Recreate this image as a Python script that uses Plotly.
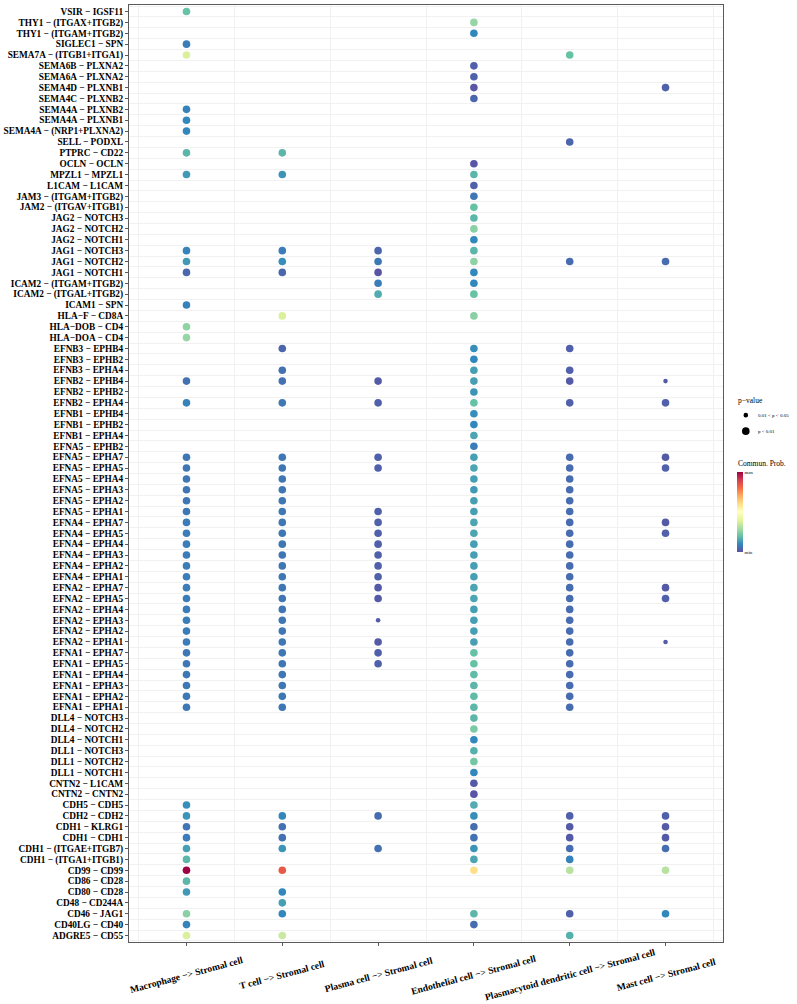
import plotly.graph_objects as go

# ---------------- data ----------------
pairs = [
    "VSIR − IGSF11", "THY1 − (ITGAX+ITGB2)", "THY1 − (ITGAM+ITGB2)", "SIGLEC1 − SPN",
    "SEMA7A − (ITGB1+ITGA1)", "SEMA6B − PLXNA2", "SEMA6A − PLXNA2", "SEMA4D − PLXNB1",
    "SEMA4C − PLXNB2", "SEMA4A − PLXNB2", "SEMA4A − PLXNB1", "SEMA4A − (NRP1+PLXNA2)",
    "SELL − PODXL", "PTPRC − CD22", "OCLN − OCLN", "MPZL1 − MPZL1", "L1CAM − L1CAM",
    "JAM3 − (ITGAM+ITGB2)", "JAM2 − (ITGAV+ITGB1)", "JAG2 − NOTCH3", "JAG2 − NOTCH2",
    "JAG2 − NOTCH1", "JAG1 − NOTCH3", "JAG1 − NOTCH2", "JAG1 − NOTCH1",
    "ICAM2 − (ITGAM+ITGB2)", "ICAM2 − (ITGAL+ITGB2)", "ICAM1 − SPN", "HLA−F − CD8A",
    "HLA−DOB − CD4", "HLA−DOA − CD4", "EFNB3 − EPHB4", "EFNB3 − EPHB2", "EFNB3 − EPHA4",
    "EFNB2 − EPHB4", "EFNB2 − EPHB2", "EFNB2 − EPHA4", "EFNB1 − EPHB4", "EFNB1 − EPHB2",
    "EFNB1 − EPHA4", "EFNA5 − EPHB2", "EFNA5 − EPHA7", "EFNA5 − EPHA5", "EFNA5 − EPHA4",
    "EFNA5 − EPHA3", "EFNA5 − EPHA2", "EFNA5 − EPHA1", "EFNA4 − EPHA7", "EFNA4 − EPHA5",
    "EFNA4 − EPHA4", "EFNA4 − EPHA3", "EFNA4 − EPHA2", "EFNA4 − EPHA1", "EFNA2 − EPHA7",
    "EFNA2 − EPHA5", "EFNA2 − EPHA4", "EFNA2 − EPHA3", "EFNA2 − EPHA2", "EFNA2 − EPHA1",
    "EFNA1 − EPHA7", "EFNA1 − EPHA5", "EFNA1 − EPHA4", "EFNA1 − EPHA3", "EFNA1 − EPHA2",
    "EFNA1 − EPHA1", "DLL4 − NOTCH3", "DLL4 − NOTCH2", "DLL4 − NOTCH1", "DLL1 − NOTCH3",
    "DLL1 − NOTCH2", "DLL1 − NOTCH1", "CNTN2 − L1CAM", "CNTN2 − CNTN2", "CDH5 − CDH5",
    "CDH2 − CDH2", "CDH1 − KLRG1", "CDH1 − CDH1", "CDH1 − (ITGAE+ITGB7)",
    "CDH1 − (ITGA1+ITGB1)", "CD99 − CD99", "CD86 − CD28", "CD80 − CD28", "CD48 − CD244A",
    "CD46 − JAG1", "CD40LG − CD40", "ADGRE5 − CD55",
]

sources = [
    "Macrophage −> Stromal cell",
    "T cell −> Stromal cell",
    "Plasma cell −> Stromal cell",
    "Endothelial cell −> Stromal cell",
    "Plasmacytoid dendritic cell −> Stromal cell",
    "Mast cell −> Stromal cell",
]

N = None
# communication probability (scaled 0 = min, 1 = max), one list per source, rows in `pairs` order
prob_macrophage = [
    0.20, N, N, 0.08, 0.38, N, N, N, N, 0.09,
    0.10, 0.10, N, 0.18, N, 0.13, N, N, N, N,
    N, N, 0.09, 0.13, 0.04, N, N, 0.09, N, 0.26,
    0.27, N, N, N, 0.06, N, 0.09, N, N, N,
    N, 0.07, 0.07, 0.07, 0.07, 0.07, 0.07, 0.08, 0.08, 0.08,
    0.08, 0.08, 0.08, 0.08, 0.08, 0.08, 0.08, 0.08, 0.08, 0.07,
    0.07, 0.07, 0.07, 0.07, 0.07, N, N, N, N, N,
    N, N, N, 0.11, 0.12, 0.07, 0.08, 0.14, 0.18, 1.00,
    0.18, 0.13, N, 0.25, 0.09, 0.38,
]
prob_tcell = [
    N, N, N, N, N, N, N, N, N, N,
    N, N, N, 0.18, N, 0.12, N, N, N, N,
    N, N, 0.08, 0.11, 0.04, N, N, N, 0.38, N,
    N, 0.04, N, 0.06, 0.06, N, 0.07, N, N, N,
    N, 0.07, 0.07, 0.07, 0.07, 0.07, 0.07, 0.07, 0.07, 0.07,
    0.07, 0.07, 0.07, 0.07, 0.07, 0.07, 0.07, 0.07, 0.07, 0.07,
    0.07, 0.07, 0.07, 0.07, 0.07, N, N, N, N, N,
    N, N, N, N, 0.10, 0.06, 0.06, 0.12, N, 0.84,
    N, 0.10, 0.14, 0.10, N, 0.35,
]
prob_plasma = [
    N, N, N, N, N, N, N, N, N, N,
    N, N, N, N, N, N, N, N, N, N,
    N, N, 0.04, 0.07, 0.01, 0.08, 0.16, N, N, N,
    N, N, N, N, 0.02, N, 0.03, N, N, N,
    N, 0.03, 0.03, N, N, N, 0.03, 0.03, 0.03, 0.03,
    0.03, 0.03, 0.03, 0.02, 0.02, N, 0.02, N, 0.02, 0.03,
    0.03, N, N, N, N, N, N, N, N, N,
    N, N, N, N, 0.05, N, N, 0.06, N, N,
    N, N, N, N, N, N,
]
prob_endothelial = [
    N, 0.27, 0.10, N, N, 0.03, 0.03, 0.01, 0.04, N,
    N, N, N, N, 0.01, 0.18, 0.03, 0.07, 0.20, 0.18,
    0.25, 0.10, 0.18, 0.26, 0.10, 0.10, 0.20, N, 0.25, N,
    N, 0.11, 0.10, 0.14, 0.14, 0.12, 0.20, 0.11, 0.10, 0.15,
    0.08, 0.14, 0.15, 0.14, 0.13, 0.14, 0.14, 0.15, 0.15, 0.14,
    0.14, 0.14, 0.14, 0.15, 0.15, 0.14, 0.14, 0.14, 0.14, 0.20,
    0.20, 0.19, 0.18, 0.19, 0.18, 0.18, 0.23, 0.10, 0.17, 0.22,
    0.10, 0.02, 0.01, 0.16, 0.11, 0.05, 0.06, 0.12, 0.15, 0.60,
    N, N, N, 0.18, 0.05, N,
]
prob_pdc = [
    N, N, N, N, 0.20, N, N, N, N, N,
    N, N, 0.04, N, N, N, N, N, N, N,
    N, N, N, 0.05, N, N, N, N, N, N,
    N, 0.03, N, 0.03, 0.02, N, 0.03, N, N, N,
    N, 0.05, 0.05, 0.05, 0.05, 0.05, 0.05, 0.05, 0.05, 0.05,
    0.05, 0.05, 0.05, 0.05, 0.05, 0.05, 0.05, 0.05, 0.05, 0.05,
    0.05, 0.05, 0.05, 0.05, 0.05, N, N, N, N, N,
    N, N, N, N, 0.03, 0.02, 0.02, 0.05, 0.09, 0.32,
    N, N, N, 0.03, N, 0.17,
]
prob_mast = [
    N, N, N, N, N, N, N, 0.03, N, N,
    N, N, N, N, N, N, N, N, N, N,
    N, N, N, 0.05, N, N, N, N, N, N,
    N, N, N, N, 0.02, N, 0.03, N, N, N,
    N, 0.02, 0.03, N, N, N, N, 0.02, 0.03, N,
    N, N, N, 0.02, 0.03, N, N, N, 0.02, N,
    N, N, N, N, N, N, N, N, N, N,
    N, N, N, N, 0.03, 0.02, 0.02, 0.05, N, 0.32,
    N, N, N, 0.10, N, N,
]
probs = [prob_macrophage, prob_tcell, prob_plasma, prob_endothelial, prob_pdc, prob_mast]

# interactions with 0.01 < p < 0.05 (all others p < 0.01)
weak_pairs = ["EFNB2 − EPHB4", "EFNA2 − EPHA3", "EFNA2 − EPHA1"]
weak_sources = ["Mast cell −> Stromal cell", "Plasma cell −> Stromal cell", "Mast cell −> Stromal cell"]

# ---------------- geometry ----------------
W, H = 797, 1004
L, R, T, B = 129, 722.7, 5, 941.7
PW, PH = R - L, B - T
FONT = "Liberation Serif"


def px(xp):
    return (xp - L) / PW


def py(yp):
    return (B - yp) / PH


weak_set = set(zip(weak_pairs, weak_sources))
big = dict(x=[], y=[], c=[], t=[])
small = dict(x=[], y=[], c=[], t=[])
for j, (src, vals) in enumerate(zip(sources, probs)):
    for i, (pair, v) in enumerate(zip(pairs, vals)):
        if v is None:
            continue
        d = small if (pair, src) in weak_set else big
        d["x"].append(j)
        d["y"].append(i)
        d["c"].append(v)
        d["t"].append(f"{pair}<br>{src}")

fig = go.Figure()
for d, size in ((big, 7.6), (small, 4.6)):
    fig.add_trace(go.Scatter(
        x=d["x"], y=d["y"], mode="markers", text=d["t"], hoverinfo="text",
        marker=dict(size=size, color=d["c"], coloraxis="coloraxis", line=dict(width=0)),
        showlegend=False,
    ))

n_rows = len(pairs)
n_cols = len(sources)

fig.update_layout(
    width=W, height=H,
    margin=dict(l=L, r=W - R, t=T, b=H - B, autoexpand=False),
    plot_bgcolor="white", paper_bgcolor="white",
    font=dict(family=FONT, color="black"),
    coloraxis=dict(
        colorscale="Spectral_r", cmin=0, cmax=1,
        colorbar=dict(
            x=px(737), xanchor="left", y=py(512), yanchor="middle",
            lenmode="pixels", len=80, thickness=6, thicknessmode="pixels",
            outlinewidth=0, ticks="", tickvals=[1, 0], ticktext=["max", "min"],
            tickfont=dict(size=5, family=FONT, color="black"), ticklabelposition="outside",
            xpad=0, ypad=0,
        ),
    ),
    xaxis=dict(
        range=[-0.6, n_cols - 0.4], tickvals=list(range(n_cols)), ticktext=[""] * n_cols,
        showgrid=False, zeroline=False, showline=True, mirror=True,
        linecolor="#5a5a5a", linewidth=1, ticks="outside", ticklen=3,
        tickcolor="#5a5a5a", tickwidth=0.6,
        minor=dict(tick0=0.5, dtick=1, showgrid=True, gridcolor="#f1f1f1", gridwidth=0.6, ticks=""),
    ),
    yaxis=dict(
        range=[n_rows - 0.4, -0.6], tickvals=list(range(n_rows)), ticktext=pairs,
        showgrid=False, zeroline=False, showline=True, mirror=True,
        linecolor="#5a5a5a", linewidth=1, ticks="outside", ticklen=3,
        tickcolor="#5a5a5a", tickwidth=0.6,
        tickfont=dict(size=9.3, family=FONT, weight="bold", color="black"),
        minor=dict(tick0=0.5, dtick=1, showgrid=True, gridcolor="#f1f1f1", gridwidth=0.6, ticks=""),
    ),
)

# rotated x-axis category labels
for j, src in enumerate(sources):
    fig.add_annotation(
        x=j, xref="x", y=py(974), yref="paper", text=src, showarrow=False,
        textangle=-15, xanchor="center", yanchor="middle",
        font=dict(size=9.6, family=FONT, weight="bold", color="black"),
    )

# p-value legend
fig.add_annotation(x=px(736), y=py(400), xref="paper", yref="paper", text="p−value",
                   showarrow=False, xanchor="left", yanchor="middle",
                   font=dict(size=7.5, family=FONT, color="black"))
legend_items = [("0.01 < p < 0.05", 415, 4.6), ("p < 0.01", 431, 7.6)]
for label, yy, dia in legend_items:
    fig.add_shape(type="circle", xref="paper", yref="paper", xsizemode="pixel", ysizemode="pixel",
                  xanchor=px(745.5), yanchor=py(yy), x0=-dia / 2, x1=dia / 2, y0=-dia / 2, y1=dia / 2,
                  fillcolor="black", line=dict(width=0))
    fig.add_annotation(x=px(756), y=py(yy), xref="paper", yref="paper", text=label,
                       showarrow=False, xanchor="left", yanchor="middle",
                       font=dict(size=5, family=FONT, color="black"))
fig.add_annotation(x=px(736), y=py(463), xref="paper", yref="paper", text="Commun. Prob.",
                   showarrow=False, xanchor="left", yanchor="middle",
                   font=dict(size=7.5, family=FONT, color="black"))

fig.write_html("out.html")
